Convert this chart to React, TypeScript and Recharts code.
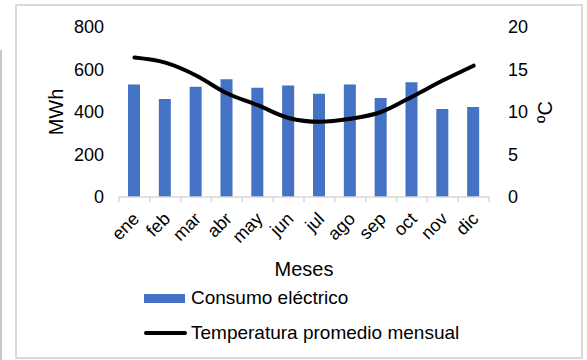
import React from "react";
import {
  ComposedChart,
  Bar,
  Line,
  XAxis,
  YAxis,
  Label,
} from "recharts";

const months = ["ene", "feb", "mar", "abr", "may", "jun", "jul", "ago", "sep", "oct", "nov", "dic"];
const consumo = [530, 461, 519, 554, 514, 525, 486, 530, 466, 540, 414, 424];
const temperatura = [16.4, 15.8, 14.3, 12.2, 10.8, 9.3, 8.85, 9.2, 10.0, 11.8, 13.7, 15.45];
const mwhTicks = [0, 200, 400, 600, 800];
const tempTicks = [0, 5, 10, 15, 20];

const SERIES_BAR = "Consumo eléctrico";
const SERIES_LINE = "Temperatura promedio mensual";

const FONT = "'Liberation Sans', Arial, sans-serif";
const BLUE = "#4472C4";
const GRID_GREY = "#d9d9d9";

const data = months.map((m, i) => ({
  mes: m,
  consumo: consumo[i],
  temp: temperatura[i],
}));

// month labels at -45°, plus Excel-style tick marks on band boundaries
function MonthTick(props: any) {
  const { x, y, payload, index } = props;
  const off = payload.offset ?? 0;
  const last = index === months.length - 1;
  return (
    <g>
      <line x1={x - off} y1={y} x2={x - off} y2={y + 5} stroke={GRID_GREY} strokeWidth={1.5} />
      {last && (
        <line x1={x + off} y1={y} x2={x + off} y2={y + 5} stroke={GRID_GREY} strokeWidth={1.5} />
      )}
      <text
        transform={`translate(${x + 6}, ${y + 23}) rotate(-45)`}
        textAnchor="end"
        fontSize={18}
        fontFamily={FONT}
        fill="#000"
      >
        {payload.value}
      </text>
    </g>
  );
}

function VerticalTitle(props: any) {
  const { viewBox, value, dxFromLeft } = props;
  const cx = viewBox.x + dxFromLeft;
  const cy = viewBox.y + viewBox.height / 2;
  return (
    <text
      x={cx}
      y={cy}
      transform={`rotate(-90, ${cx}, ${cy})`}
      textAnchor="middle"
      dominantBaseline="central"
      fontSize={20}
      fontFamily={FONT}
      fill="#000"
    >
      {value}
    </text>
  );
}

function MesesTitle(props: any) {
  const { viewBox } = props;
  return (
    <text
      x={viewBox.x + viewBox.width / 2}
      y={viewBox.y + 79}
      textAnchor="middle"
      fontSize={20}
      fontFamily={FONT}
      fill="#000"
    >
      Meses
    </text>
  );
}

const tickStyle = { fontSize: 18, fontFamily: FONT, fill: "#000" };

export default function App() {
  return (
    <div style={{ position: "absolute", left: 0, top: 0, width: 587, height: 360, background: "#fff" }}>
      <div style={{ position: "absolute", left: 0, top: 50, width: 1.5, height: 310, background: "#c8c8c8" }} />
      <div
        style={{
          position: "absolute",
          left: 15,
          top: 4,
          width: 568,
          height: 355,
          border: `2px solid ${GRID_GREY}`,
          boxSizing: "border-box",
        }}
      />
      <div style={{ position: "absolute", left: 0, top: 0 }}>
        <ComposedChart
          width={587}
          height={360}
          data={data}
          margin={{ top: 27, right: 0, bottom: 0, left: 0 }}
        >
          <XAxis
            dataKey="mes"
            xAxisId="m"
            height={163}
            interval={0}
            tickSize={0}
            tickMargin={0}
            tickLine={false}
            axisLine={{ stroke: GRID_GREY, strokeWidth: 1.5 }}
            tick={<MonthTick />}
          >
            <Label content={<MesesTitle />} />
          </XAxis>
          <YAxis
            yAxisId="mwh"
            width={119}
            domain={[0, 800]}
            ticks={mwhTicks}
            axisLine={false}
            tickLine={false}
            tickMargin={9}
            tick={tickStyle}
          >
            <Label content={<VerticalTitle value="MWh" dxFromLeft={56} />} />
          </YAxis>
          <YAxis
            yAxisId="temp"
            orientation="right"
            width={98}
            domain={[0, 20]}
            ticks={tempTicks}
            axisLine={false}
            tickLine={false}
            tickMargin={13}
            tick={{ ...tickStyle, textAnchor: "start" }}
          >
            <Label content={<VerticalTitle value="ºC" dxFromLeft={56} />} />
          </YAxis>
          <Bar
            xAxisId="m"
            yAxisId="mwh"
            dataKey="consumo"
            name={SERIES_BAR}
            fill={BLUE}
            barSize={12}
            isAnimationActive={false}
          />
          <Line
            xAxisId="m"
            yAxisId="temp"
            dataKey="temp"
            name={SERIES_LINE}
            type="monotone"
            stroke="#000"
            strokeWidth={4}
            strokeLinecap="round"
            dot={false}
            activeDot={false}
            isAnimationActive={false}
          />
        </ComposedChart>
      </div>
      {/* legend */}
      <div style={{ position: "absolute", left: 144, top: 287, fontFamily: FONT, fontSize: 19, color: "#000" }}>
        <div style={{ display: "flex", alignItems: "center", height: 22 }}>
          <span style={{ display: "inline-block", width: 41, height: 9, background: BLUE, marginRight: 6 }} />
          <span>{SERIES_BAR}</span>
        </div>
        <div style={{ display: "flex", alignItems: "center", height: 22, marginTop: 13 }}>
          <span
            style={{
              display: "inline-block",
              width: 43,
              height: 4,
              background: "#000",
              borderRadius: 2,
              marginRight: 4,
            }}
          />
          <span>{SERIES_LINE}</span>
        </div>
      </div>
    </div>
  );
}
